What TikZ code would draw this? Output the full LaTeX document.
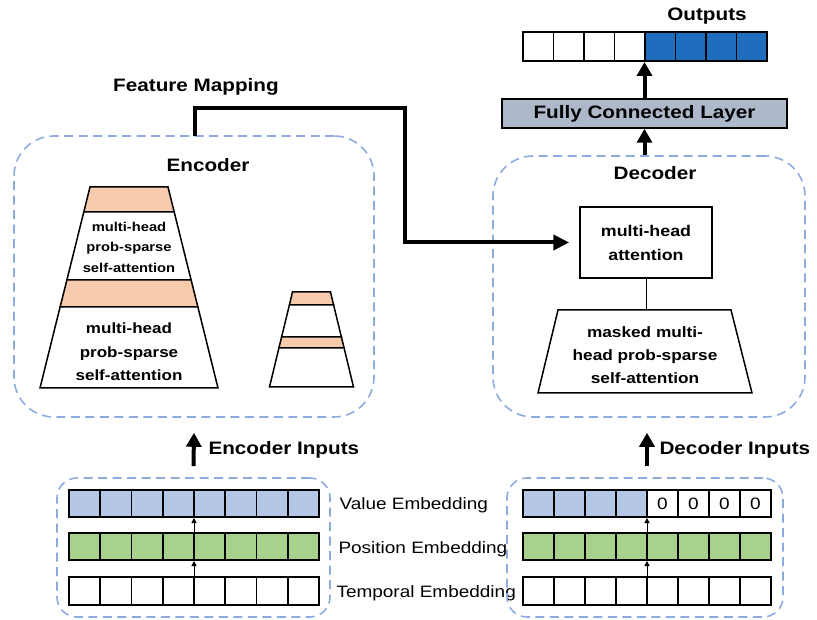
\documentclass[tikz,border=0pt]{standalone}
\usepackage{fontspec}
\setmainfont[FakeStretch=1.15]{Liberation Sans}
\usetikzlibrary{arrows.meta,calc}
\definecolor{valueblue}{HTML}{B4C7E7}
\definecolor{posgreen}{HTML}{A9D18E}
\definecolor{peach}{HTML}{F8CBAD}
\definecolor{dashblue}{HTML}{8EABDF}
\definecolor{outblue}{HTML}{1F6EBE}
\definecolor{fcgray}{HTML}{ADB9CA}
\begin{document}
\begin{tikzpicture}[x=1pt,y=-1pt,
  dashbox/.style={draw=dashblue, line width=1.6pt, dash pattern=on 9pt off 5.5pt, inner sep=0pt},
  cellst/.style={draw=black, line width=1.6pt},
  rowst/.style={draw=black, line width=2pt, inner sep=0pt},
  trap/.style={draw=black, line width=1.5pt, line join=miter},
  hdr/.style={font=\fontsize{18}{21}\selectfont\bfseries},
  emblabel/.style={font=\fontsize{16.5}{19}\selectfont, anchor=west},
  bigarrow/.style={line width=4pt, -{Triangle[width=15pt,length=14pt]}},
  smallarrow/.style={line width=1pt, -{Triangle[width=5pt,length=5pt]}},
  fmline/.style={line width=4pt, line join=miter, -{Triangle[width=15pt,length=16pt]}}
]
\useasboundingbox (0,0) rectangle (817,620);

% ---------------- Encoder ----------------
\node[dashbox, rounded corners=40pt, minimum width=360pt, minimum height=281pt] (encbox) at (194,276.5) {};
\node[hdr] (enclabel) at (208,165) {Encoder};

% big trapezoid
\filldraw[trap, fill=peach] (90,187) -- (168,187) -- (174.2,212) -- (83.8,212) -- cycle;
\filldraw[trap, fill=white] (83.8,212) -- (174.2,212) -- (191.1,280) -- (66.9,280) -- cycle;
\filldraw[trap, fill=peach] (66.9,280) -- (191.1,280) -- (197.9,307) -- (60.1,307) -- cycle;
\filldraw[trap, fill=white] (60.1,307) -- (197.9,307) -- (218,388) -- (40,388) -- cycle;
\node[align=center, font=\fontsize{12.8}{20.5}\selectfont\bfseries] (enctxtA) at (129,247) {multi-head\\prob-sparse\\self-attention};
\node[align=center, font=\fontsize{14.8}{23.5}\selectfont\bfseries] (enctxtB) at (129,352) {multi-head\\prob-sparse\\self-attention};

% small trapezoid
\filldraw[trap, fill=peach] (292.5,292) -- (330.5,292) -- (333.6,305) -- (289.4,305) -- cycle;
\filldraw[trap, fill=white] (289.4,305) -- (333.6,305) -- (341.4,337) -- (281.6,337) -- cycle;
\filldraw[trap, fill=peach] (281.6,337) -- (341.4,337) -- (344.1,348) -- (278.9,348) -- cycle;
\filldraw[trap, fill=white] (278.9,348) -- (344.1,348) -- (353.5,387) -- (269.5,387) -- cycle;

% ---------------- Decoder ----------------
\node[dashbox, rounded corners=40pt, minimum width=312pt, minimum height=261pt] (decbox) at (649,286.5) {};
\node[hdr] (declabel) at (655,173) {Decoder};
\node[draw=black, line width=1.5pt, minimum width=132pt, minimum height=71pt, align=center,
      font=\fontsize{15.5}{24}\selectfont\bfseries] (attn) at (646,242.5) {multi-head\\attention};
\filldraw[trap, fill=white] (558,310) -- (731,310) -- (752,393) -- (538,393) -- cycle;
\coordinate (mtop) at (646,310);
\node[align=center, font=\fontsize{15}{23}\selectfont\bfseries] (mtxt) at (645,355) {masked multi-\\head prob-sparse\\self-attention};
\draw[line width=1pt] (attn.south) -- (mtop);

% ---------------- Fully connected + outputs ----------------
\node[draw=black, fill=fcgray, line width=1.5pt, minimum width=285pt, minimum height=29pt, inner sep=0pt, hdr] (fc) at (644.5,113.5) {Fully Connected Layer};
\foreach \i in {0,...,3} \draw[cellst, fill=white] ({523+\i*30.5},32) rectangle ++(30.5,29);
\foreach \i in {4,...,7} \draw[cellst, fill=outblue] ({523+\i*30.5},32) rectangle ++(30.5,29);
\node[rowst, minimum width=244pt, minimum height=29pt] (outrow) at (645,46.5) {};
\node[hdr] (outlabel) at (707,16) {Outputs};

\draw[bigarrow] (decbox.north -| fc.south) -- (fc.south);
\draw[bigarrow] (fc.north) -- (fc.north |- outrow.south);

% ---------------- Feature mapping ----------------
\node[hdr] (fmlabel) at (196,87) {Feature Mapping};
\coordinate (encout) at (195,136);
\coordinate (fmturn) at (405,108);
\draw[fmline, shorten >=10pt] (encout) |- (fmturn) |- (attn.west);

% ---------------- Encoder inputs ----------------
\node[dashbox, rounded corners=20pt, minimum width=273pt, minimum height=139pt] (encemb) at (193.5,547.5) {};
\foreach \i in {0,...,7} \draw[cellst, fill=valueblue] ({69+\i*31.25},490) rectangle ++(31.25,27);
\foreach \i in {0,...,7} \draw[cellst, fill=posgreen] ({69+\i*31.25},533) rectangle ++(31.25,27);
\foreach \i in {0,...,7} \draw[cellst, fill=white] ({69+\i*31.25},577) rectangle ++(31.25,28);
\node[rowst, minimum width=250pt, minimum height=27pt] (encval) at (194,503.5) {};
\node[rowst, minimum width=250pt, minimum height=27pt] (encpos) at (194,546.5) {};
\node[rowst, minimum width=250pt, minimum height=28pt] (enctmp) at (194,591) {};
\draw[smallarrow] (enctmp.center) -- (encpos.south);
\draw[smallarrow] (encpos.center) -- (encval.south);
\draw[bigarrow] ([yshift=11pt]encemb.north) -- ([yshift=-15pt]encbox.south);
\node[hdr, anchor=west] (encinlabel) at (205,450) {Encoder Inputs};

\node[emblabel] (vlabel) at (336,505) {Value Embedding};
\node[emblabel] (plabel) at (335,549) {Position Embedding};
\node[emblabel] (tlabel) at (333,593) {Temporal Embedding};

% ---------------- Decoder inputs ----------------
\node[dashbox, rounded corners=20pt, minimum width=276pt, minimum height=139pt] (decemb) at (645,547.5) {};
\foreach \i in {0,...,3} \draw[cellst, fill=valueblue] ({523+\i*31},490) rectangle ++(31,27);
\foreach \i in {4,...,7} \draw[cellst, fill=white] ({523+\i*31},490) rectangle ++(31,27)
   node[midway, font=\fontsize{16.5}{19}\selectfont] {0};
\foreach \i in {0,...,7} \draw[cellst, fill=posgreen] ({523+\i*31},533) rectangle ++(31,27);
\foreach \i in {0,...,7} \draw[cellst, fill=white] ({523+\i*31},577) rectangle ++(31,28);
\node[rowst, minimum width=248pt, minimum height=27pt] (decval) at (647,503.5) {};
\node[rowst, minimum width=248pt, minimum height=27pt] (decpos) at (647,546.5) {};
\node[rowst, minimum width=248pt, minimum height=28pt] (dectmp) at (647,591) {};
\draw[smallarrow] (dectmp.center) -- (decpos.south);
\draw[smallarrow] (decpos.center) -- (decval.south);
\draw[bigarrow] ([yshift=11pt]decval.north |- decemb.north) -- ([yshift=-15pt]decval.north |- decbox.south);
\node[hdr, anchor=west] (decinlabel) at (656,450) {Decoder Inputs};
\end{tikzpicture}
\end{document}
